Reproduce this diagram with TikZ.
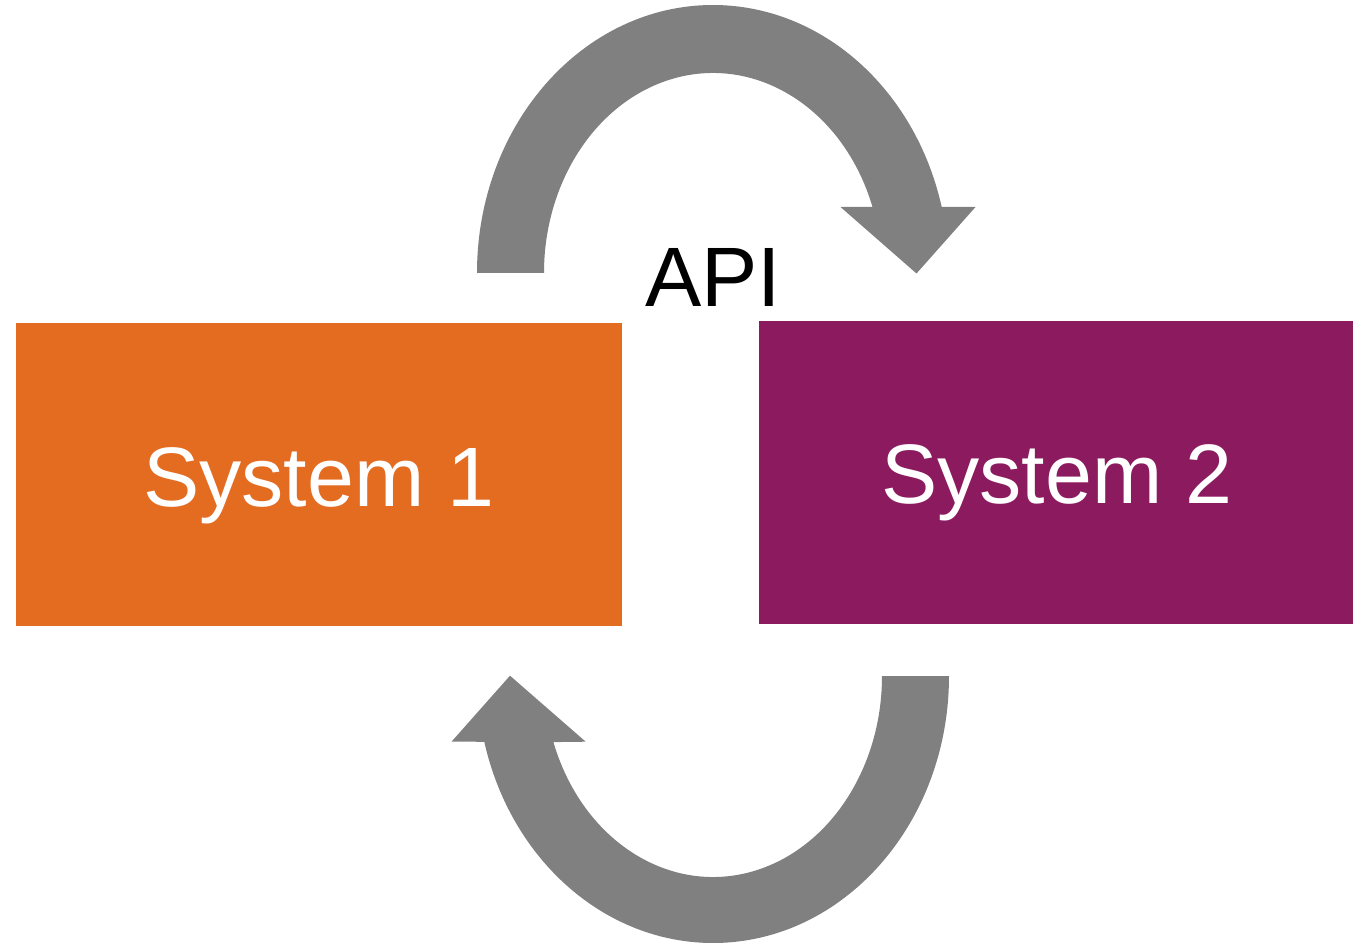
\documentclass[tikz,border=0pt]{standalone}
\usepackage{fontspec}
\setmainfont{Liberation Sans}
\usetikzlibrary{positioning,calc}
\definecolor{sysone}{HTML}{E46C21}
\definecolor{systwo}{HTML}{8B1B5E}
\definecolor{loopgray}{HTML}{808080}
\tikzset{
  sysbox/.style={rectangle, minimum height=3.03cm, text=white, inner sep=0pt,
                 font=\fontsize{24}{28}\selectfont, text height=0.75cm, text depth=0.12cm},
  loop/.style={fill=loopgray}
}
\begin{document}
\begin{tikzpicture}[
                    node distance=1.36cm
                    ]
                    \useasboundingbox (0,0) rectangle (13.53,9.46);

                    \node [sysbox, fill=sysone, minimum width=6.06cm] (sys1) at (3.19,4.715) {System 1};
                    \node [sysbox, fill=systwo, minimum width=5.95cm, right = of sys1, yshift=0.02cm] (sys2) {System 2};
                    \node [anchor=base, font=\fontsize{24}{28}\selectfont] (api) at (7.13,6.40) {API};

                    \coordinate (topc) at (7.13,6.73);
                    \coordinate (botc) at (7.13,2.70);

                    \fill[loop] (topc) ++(180:2.36 and 2.68)
                        arc[start angle=180, end angle=14.26, x radius=2.36, y radius=2.68]
                        -- (9.755,7.39) -- (9.165,6.725) -- (8.405,7.39)
                        -- ($(topc)+(19.27:1.69 and 2)$)
                        arc[start angle=19.27, end angle=180, x radius=1.69, y radius=2] -- cycle;
                    \fill[loop] (botc) ++(0:2.36 and 2.67)
                        arc[start angle=0, end angle=-165.74, x radius=2.36, y radius=2.67]
                        -- (4.515,2.043) -- (5.10,2.703) -- (5.857,2.043)
                        -- ($(botc)+(-160.8:1.69 and 2.01)$)
                        arc[start angle=-160.8, end angle=0, x radius=1.69, y radius=2.01] -- cycle;
                \end{tikzpicture}
\end{document}
